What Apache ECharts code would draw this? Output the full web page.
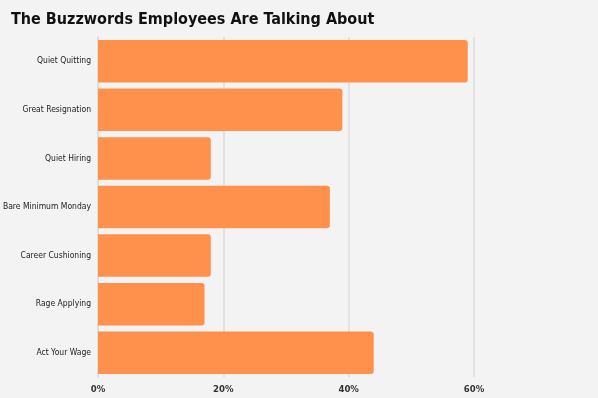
<!DOCTYPE html>
<html><head><meta charset="utf-8">
<script src="https://cdn.jsdelivr.net/npm/echarts@6/dist/echarts.min.js"></script>
<style>html,body{margin:0;padding:0;background:#f3f3f3}#c{width:598px;height:398px}</style>
</head><body><div id="c"></div>
<script>
const categories = ["Quiet Quitting","Great Resignation","Quiet Hiring","Bare Minimum Monday","Career Cushioning","Rage Applying","Act Your Wage"];
const values = [59, 39, 18, 37, 18, 17, 44];
const xTicks = [0, 20, 40, 60];
const title = "The Buzzwords Employees Are Talking About";
const FF = '"DejaVu Sans Condensed", "Liberation Sans Narrow", sans-serif';

const chart = echarts.init(document.getElementById('c'));
chart.setOption({
  backgroundColor: '#f3f3f3',
  title: {
    text: title, left: 6, top: 7,
    textStyle: { fontFamily: FF, fontWeight: 'bold', fontSize: 16, color: '#111' }
  },
  grid: { left: 98, right: 124, top: 37, bottom: 21, containLabel: false, outerBoundsMode: 'none' },
  xAxis: {
    type: 'value', min: xTicks[0], max: xTicks[xTicks.length-1], interval: 20,
    axisLine: { show: false }, axisTick: { show: false },
    splitLine: { lineStyle: { color: '#dcdcdc', width: 1.5 } },
    axisLabel: { formatter: v => v + '%', color: '#333', fontSize: 9.5, margin: 8,
      fontFamily: FF, fontWeight: 'bold' }
  },
  yAxis: {
    type: 'category', data: categories, inverse: true,
    axisLine: { show: true, lineStyle: { color: '#dcdcdc', width: 1.5 } }, axisTick: { show: false },
    axisLabel: { color: '#222', fontSize: 8.5, margin: 7,
      fontFamily: FF, fontWeight: 'normal' }
  },
  series: [{
    type: 'bar', data: values, barCategoryGap: '12.5%',
    itemStyle: { color: '#ff914d', borderRadius: [0, 3, 3, 0] }
  }]
});
</script></body></html>
